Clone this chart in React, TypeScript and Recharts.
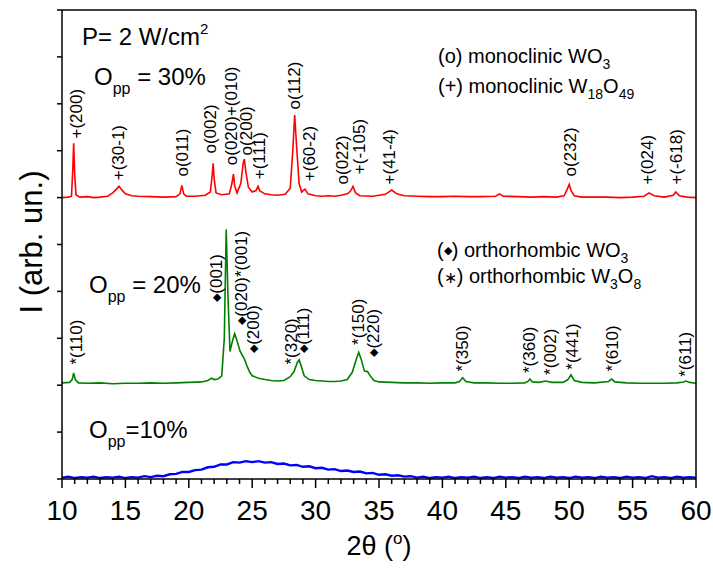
import { ComposedChart, Line, Scatter, XAxis, YAxis } from 'recharts'

// XRD patterns, stacked (P = 2 W/cm2). [2theta, intensity in arb. un. incl. offset]
const RED_30: [number, number][] = [
    [10, 6.0], [10.5, 6.01], [10.75, 6.03], [10.85, 6.6], [10.92, 7.16], [11.0, 6.5], [11.1, 6.06], [11.4, 6.01],
    [12, 6.02], [12.5, 6.0], [13, 6.01], [13.6, 6.03], [14, 6.1], [14.3, 6.18], [14.5, 6.24], [14.7, 6.17],
    [15, 6.08], [15.5, 6.04], [16, 6.03], [17, 6.02], [18, 6.01], [19, 6.02], [19.3, 6.08], [19.45, 6.26],
    [19.6, 6.08], [19.8, 6.03], [20.5, 6.03], [21.3, 6.05], [21.7, 6.12], [21.85, 6.5], [21.92, 6.73], [22.0, 6.4],
    [22.15, 6.1], [22.6, 6.06], [23.2, 6.08], [23.4, 6.3], [23.52, 6.5], [23.62, 6.25], [23.8, 6.1], [24.1, 6.3],
    [24.3, 6.75], [24.38, 6.82], [24.5, 6.55], [24.7, 6.22], [25.0, 6.12], [25.3, 6.15], [25.46, 6.24], [25.6, 6.14],
    [26, 6.08], [26.5, 6.06], [27, 6.05], [27.6, 6.07], [28.0, 6.2], [28.2, 7.0], [28.35, 7.76], [28.5, 7.1],
    [28.7, 6.3], [28.9, 6.12], [29.16, 6.18], [29.4, 6.08], [30, 6.04], [30.5, 6.03], [31, 6.04], [31.5, 6.03],
    [32, 6.05], [32.5, 6.08], [32.75, 6.14], [32.95, 6.24], [33.15, 6.1], [33.5, 6.04], [34.5, 6.03], [35.5, 6.07],
    [36.0, 6.16], [36.4, 6.08], [37, 6.04], [38, 6.03], [39, 6.02], [40, 6.02], [41, 6.03], [42, 6.02],
    [43, 6.02], [44.2, 6.03], [44.5, 6.08], [44.8, 6.03], [46, 6.02], [47, 6.01], [48, 6.02], [49, 6.01],
    [49.6, 6.04], [49.85, 6.18], [50.0, 6.28], [50.15, 6.15], [50.4, 6.04], [51, 6.01], [52, 6.01], [53, 6.01],
    [54, 6.0], [55, 6.01], [55.9, 6.03], [56.3, 6.1], [56.7, 6.04], [57.5, 6.01], [58.2, 6.05], [58.4, 6.12],
    [58.7, 6.04], [59.3, 6.01], [60, 6.0],
]

const GREEN_20: [number, number][] = [
    [10, 2.05], [10.6, 2.06], [10.8, 2.12], [10.92, 2.26], [11.05, 2.12], [11.3, 2.05], [12, 2.04], [13, 2.05],
    [14, 2.03], [15, 2.04], [16, 2.04], [17, 2.05], [18, 2.04], [19, 2.05], [20, 2.06], [21, 2.07],
    [21.5, 2.1], [21.8, 2.15], [22.0, 2.12], [22.3, 2.13], [22.6, 2.2], [22.8, 3.0], [22.95, 5.32], [23.1, 3.8],
    [23.25, 2.72], [23.45, 2.95], [23.62, 3.1], [23.8, 2.95], [24.05, 2.72], [24.4, 2.55], [24.6, 2.4], [24.8, 2.28],
    [25.0, 2.2], [25.5, 2.15], [26, 2.12], [26.5, 2.1], [27, 2.09], [27.5, 2.1], [28.0, 2.18], [28.3, 2.29],
    [28.55, 2.48], [28.7, 2.54], [28.85, 2.42], [29.1, 2.2], [29.5, 2.12], [30, 2.1], [30.5, 2.09], [31, 2.08],
    [31.5, 2.08], [32, 2.09], [32.5, 2.12], [32.9, 2.28], [33.2, 2.55], [33.4, 2.7], [33.6, 2.55], [33.85, 2.3],
    [34.1, 2.29], [34.3, 2.2], [34.6, 2.1], [35, 2.07], [36, 2.06], [37, 2.05], [38, 2.05], [39, 2.04],
    [40, 2.05], [41, 2.05], [41.35, 2.08], [41.6, 2.16], [41.85, 2.08], [42.5, 2.05], [43.5, 2.05], [44.5, 2.04],
    [45.5, 2.04], [46.5, 2.05], [46.75, 2.08], [46.9, 2.13], [47.1, 2.07], [47.6, 2.06], [48.15, 2.09], [48.6, 2.06],
    [49.5, 2.06], [49.9, 2.12], [50.14, 2.22], [50.4, 2.1], [51, 2.06], [52, 2.05], [53.1, 2.08], [53.35, 2.13],
    [53.6, 2.07], [54.5, 2.05], [55.5, 2.04], [56.5, 2.04], [57.5, 2.04], [58.5, 2.05], [59.0, 2.07], [59.2, 2.09],
    [59.5, 2.06], [60, 2.04],
]

// amorphous film, broad hump with noise
const BLUE_10: [number, number][] = [
    [10, 0.03], [10.5, 0.05], [11, 0.02], [11.5, 0.04], [12, 0.03], [12.5, 0.05], [13, 0.02], [13.5, 0.04],
    [14, 0.03], [14.5, 0.05], [15, 0.02], [15.5, 0.04], [16, 0.03], [16.5, 0.06], [17, 0.04], [17.5, 0.07],
    [18, 0.06], [18.5, 0.1], [19, 0.11], [19.5, 0.15], [20, 0.15], [20.5, 0.19], [21, 0.2], [21.5, 0.25],
    [22, 0.26], [22.5, 0.31], [23, 0.31], [23.5, 0.36], [24, 0.35], [24.5, 0.38], [25, 0.36], [25.5, 0.38],
    [26, 0.35], [26.5, 0.36], [27, 0.32], [27.5, 0.33], [28, 0.29], [28.5, 0.3], [29, 0.26], [29.5, 0.27],
    [30, 0.23], [30.5, 0.24], [31, 0.2], [31.5, 0.21], [32, 0.17], [32.5, 0.18], [33, 0.15], [33.5, 0.16],
    [34, 0.12], [34.5, 0.13], [35, 0.09], [35.5, 0.1], [36, 0.07], [36.5, 0.08], [37, 0.05], [37.5, 0.06],
    [38, 0.03], [38.5, 0.05], [39, 0.02], [39.5, 0.04], [40, 0.03], [40.5, 0.05], [41, 0.02], [41.5, 0.04],
    [42, 0.03], [42.5, 0.05], [43, 0.02], [43.5, 0.04], [44, 0.02], [44.5, 0.05], [45, 0.03], [45.5, 0.04],
    [46, 0.02], [46.5, 0.05], [47, 0.03], [47.5, 0.04], [48, 0.02], [48.5, 0.05], [49, 0.03], [49.5, 0.04],
    [50, 0.02], [50.5, 0.05], [51, 0.03], [51.5, 0.04], [52, 0.02], [52.5, 0.05], [53, 0.03], [53.5, 0.04],
    [54, 0.02], [54.5, 0.05], [55, 0.03], [55.5, 0.04], [56, 0.02], [56.5, 0.06], [57, 0.03], [57.5, 0.04],
    [58, 0.02], [58.5, 0.05], [59, 0.03], [59.5, 0.04], [60, 0.03],
]

// peak indexing: [phase symbol, hkl text, 2theta, intensity where label starts]
const RED_PEAKS: [string, string, number, number][] = [
    ['+', '(200)', 11.14, 7.26], ['+', '(30-1)', 14.42, 6.37], ['o', '(011)', 19.44, 6.45], ['o', '(002)', 21.67, 6.94],
    ['o', '(020)+(010)', 23.35, 6.69], ['o', '(200)', 24.51, 6.9], ['+', '(111)', 25.54, 6.39], ['o', '(112)', 28.3, 7.88],
    ['+', '(60-2)', 29.48, 6.35], ['o', '(022)', 32.08, 6.28], ['+', '(-105)', 33.42, 6.5], ['+', '(41-4)', 35.79, 6.28],
    ['o', '(232)', 50.06, 6.45], ['+', '(024)', 56.14, 6.28], ['+', '(-618)', 58.42, 6.28],
]

const GREEN_PEAKS: [string, string, number, number][] = [
    ['*', '(110)', 11.08, 2.44], ['\u25C6', '(001)', 22.15, 3.78], ['\u25C6', '(020)*(001)', 24.12, 3.29],
    ['\u25C6', '(200)', 25.04, 2.69], ['*', '(320)', 28.06, 2.44], ['\u25C6', '(111)', 29.01, 2.69],
    ['*', '(150)', 33.34, 2.86], ['\u25C6', '(220)', 34.53, 2.61], ['*', '(350)', 41.52, 2.29],
    ['*', '(360)', 46.83, 2.26], ['*', '(002)', 48.49, 2.22], ['*', '(441)', 50.2, 2.33],
    ['*', '(610)', 53.35, 2.29], ['*', '(611)', 59.13, 2.18],
]

const X_TICKS = [
    10, 11, 12, 13, 14, 15, 16, 17, 18, 19, 20, 21, 22, 23, 24, 25, 26, 27, 28, 29, 30, 31, 32, 33, 34, 35,
    36, 37, 38, 39, 40, 41, 42, 43, 44, 45, 46, 47, 48, 49, 50, 51, 52, 53, 54, 55, 56, 57, 58, 59, 60,
]
const X_LABELS = [10, 15, 20, 25, 30, 35, 40, 45, 50, 55, 60]
const Y_TICKS = [0, 1, 2, 3, 4, 5, 6, 7, 8, 9, 10]

const FONT = "'Liberation Sans', Arial, sans-serif"

const toPts = (arr: [number, number][]) => arr.map(([x, y]) => ({ x, y }))
const toLabels = (arr: [string, string, number, number][]) =>
    arr.map(([sym, hkl, x, y]) => ({ sym, hkl, x, y }))

const XTick = (props: any) => {
    const { x, y, payload } = props
    const isMajor = X_LABELS.includes(payload.value)
    return (
        <g>
            <line x1={x} x2={x} y1={y} y2={y + (isMajor ? 9 : 5)} stroke="#000" strokeWidth={1.5} />
            {isMajor && (
                <text x={x} y={y + 41} textAnchor="middle" fontSize={28} fontFamily={FONT} fill="#000">
                    {payload.value}
                </text>
            )}
        </g>
    )
}

const PeakLabel = (props: any) => {
    const { cx, cy } = props
    const p = props.payload ?? props
    if (cx == null || cy == null) return <g />
    const symSize = p.sym === '\u25C6' ? 11 : 17
    return (
        <text x={cx} y={cy} transform={`rotate(-90 ${cx} ${cy})`} dominantBaseline="central"
            fontSize={17} fontFamily={FONT} fill="#000">
            <tspan fontSize={symSize}>{p.sym}</tspan>
            <tspan>{p.hkl}</tspan>
        </text>
    )
}

const axisStyle = { stroke: '#000', strokeWidth: 1.5 }

export default function App() {
    return (
        <div style={{ position: 'absolute', left: 0, top: 0, width: 713, height: 568, background: '#fff' }}>
            <ComposedChart width={713} height={568} margin={{ top: 9, right: 16, left: 61, bottom: 88 }}>
                <XAxis xAxisId="b" type="number" dataKey="x" domain={[10, 60]} ticks={X_TICKS} allowDataOverflow
                    height={1} tickSize={0} tickMargin={0} tickLine={false} tick={<XTick />} interval={0}
                    axisLine={axisStyle} />
                <XAxis xAxisId="t" orientation="top" type="number" domain={[10, 60]} height={1}
                    tick={false} tickLine={false} axisLine={axisStyle} />
                <YAxis yAxisId="l" type="number" dataKey="y" domain={[0, 10]} ticks={Y_TICKS} allowDataOverflow
                    width={1} tickSize={5} tick={() => <g />} interval={0}
                    tickLine={axisStyle} axisLine={axisStyle} />
                <YAxis yAxisId="r" orientation="right" type="number" domain={[0, 10]} width={1}
                    tick={false} tickLine={false} axisLine={axisStyle} />

                <Line xAxisId="b" yAxisId="l" data={toPts(BLUE_10)} dataKey="y" type="linear" stroke="#0000ff"
                    strokeWidth={2.4} dot={false} isAnimationActive={false} />
                <Line xAxisId="b" yAxisId="l" data={toPts(GREEN_20)} dataKey="y" type="linear" stroke="#008000"
                    strokeWidth={1.6} dot={false} isAnimationActive={false} />
                <Line xAxisId="b" yAxisId="l" data={toPts(RED_30)} dataKey="y" type="linear" stroke="#ff0000"
                    strokeWidth={1.6} dot={false} isAnimationActive={false} />

                <Scatter xAxisId="b" yAxisId="l" data={toLabels(RED_PEAKS)} dataKey="y" shape={PeakLabel}
                    isAnimationActive={false} />
                <Scatter xAxisId="b" yAxisId="l" data={toLabels(GREEN_PEAKS)} dataKey="y" shape={PeakLabel}
                    isAnimationActive={false} />
            </ComposedChart>

            {/* titles, sample notes and phase keys */}
            <svg width={713} height={568} style={{ position: 'absolute', left: 0, top: 0, pointerEvents: 'none' }}
                fontFamily={FONT} fill="#000">
                <text x={82} y={45} fontSize={24}>
                    P= 2 W/cm<tspan fontSize={15} dy={-11}>2</tspan>
                </text>
                <text x={94} y={85} fontSize={24}>
                    O<tspan fontSize={16} dy={9}>pp</tspan><tspan dy={-9}> = 30%</tspan>
                </text>
                <text x={89} y={293} fontSize={24}>
                    O<tspan fontSize={16} dy={9}>pp</tspan><tspan dy={-9}> = 20%</tspan>
                </text>
                <text x={89} y={438} fontSize={24}>
                    O<tspan fontSize={16} dy={9}>pp</tspan><tspan dy={-9}>=10%</tspan>
                </text>

                <text x={438} y={63} fontSize={20}>
                    (ο) monoclinic WO<tspan fontSize={14} dy={6}>3</tspan>
                </text>
                <text x={438} y={93} fontSize={20}>
                    (+) monoclinic W<tspan fontSize={14} dy={6}>18</tspan><tspan dy={-6}>O</tspan>
                    <tspan fontSize={14} dy={6}>49</tspan>
                </text>
                <text x={437} y={257} fontSize={20}>
                    (<tspan fontSize={11} dy={-3}>{'\u25C6'}</tspan><tspan dy={3}>) orthorhombic WO</tspan>
                    <tspan fontSize={14} dy={6}>3</tspan>
                </text>
                <text x={437} y={283} fontSize={20}>
                    (<tspan fontSize={16}>{'\u2217'}</tspan>) orthorhombic W<tspan fontSize={14} dy={6}>3</tspan>
                    <tspan dy={-6}>O</tspan><tspan fontSize={14} dy={6}>8</tspan>
                </text>

                <text x={31} y={242} fontSize={31} textAnchor="middle" dominantBaseline="central"
                    transform="rotate(-90 31 242)">
                    I (arb. un.)
                </text>
                <text x={379} y={555} fontSize={27} textAnchor="middle">
                    2θ (<tspan fontSize={17} dy={-11}>o</tspan><tspan dy={11}>)</tspan>
                </text>
            </svg>
        </div>
    )
}
